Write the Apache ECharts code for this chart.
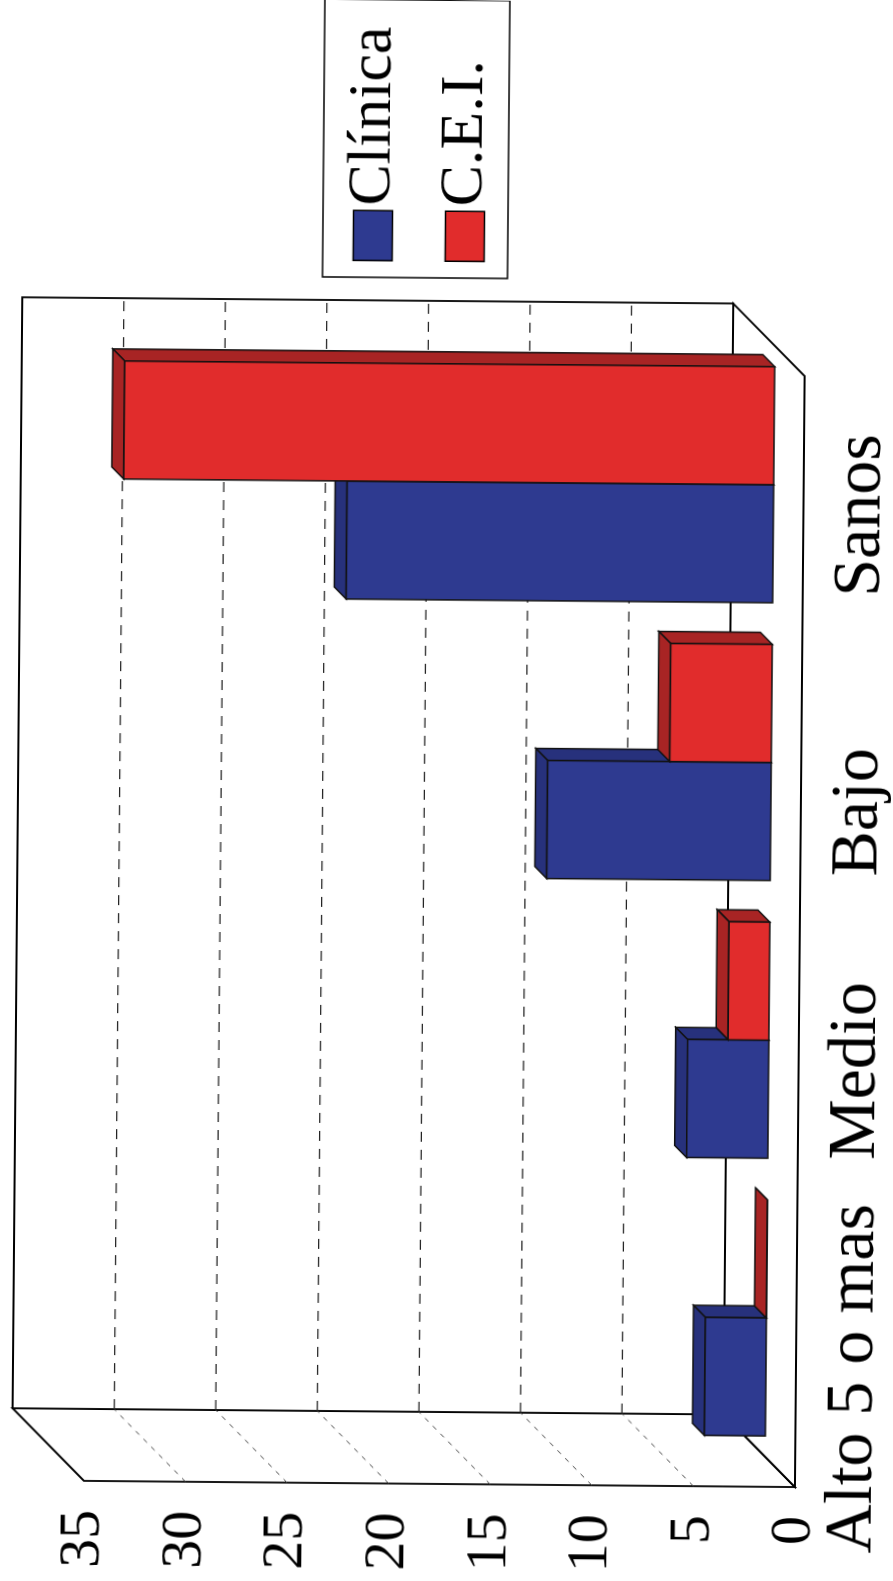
<!DOCTYPE html>
<html>
<head>
<meta charset="utf-8">
<script src="https://cdn.jsdelivr.net/npm/echarts@6/dist/echarts.min.js"></script>
<style>
  html, body { margin: 0; padding: 0; background: #fff; width: 893px; height: 1581px; overflow: hidden; }
  /* landscape chart turned a quarter turn to sit on the portrait page */
  #chart { position: absolute; left: -344px; top: 344px; width: 1581px; height: 893px;
           transform: rotate(-89.5deg); transform-origin: 50% 50%; }
</style>
</head>
<body>
<div id="chart"></div>
<script>
// ---- data ----
const categories = ['Alto 5 o mas', 'Medio', 'Bajo', 'Sanos'];
const clinica = [3, 4, 11, 21];
const cei = [0, 2, 5, 32];
const seriesNames = ['Clínica', 'C.E.I.'];
const valueMin = 0;
const valueMax = 35;
const valueStep = 5;

// ---- 3D look ----
const DEPTH = 72;        // floor depth (oblique offset, px)
const BAR_FRONT = 30;    // bar front face depth from the front plane
const BAR_BACK = 42;     // bar back face depth
const BAR_FRAC = 0.425;  // bar width as a fraction of a category band
const FONT = 'Liberation Serif, "Times New Roman", serif';
const labelShift = [-30, 0, -19, 0];   // horizontal nudge of each category label

const palette = [
  { front: '#2e3a90', bevel: '#27317c' },
  { front: '#e12c2c', bevel: '#a82424' }
];

function wallsItem(params, api) {
  const cs = params.coordSys;
  const fx0 = cs.x, fx1 = cs.x + cs.width;
  const fyTop = cs.y, fyBot = cs.y + cs.height;
  const D = DEPTH;
  const edge = { stroke: '#000', lineWidth: 1.8, fill: '#fff' };
  const children = [];
  // side wall (left)
  children.push({ type: 'polygon', shape: { points: [[fx0, fyTop], [fx0 + D, fyTop - D], [fx0 + D, fyBot - D], [fx0, fyBot]] }, style: edge });
  // floor
  children.push({ type: 'polygon', shape: { points: [[fx0, fyBot], [fx0 + D, fyBot - D], [fx1 + D, fyBot - D], [fx1, fyBot]] }, style: edge });
  // back wall
  children.push({ type: 'rect', shape: { x: fx0 + D, y: fyTop - D, width: cs.width, height: cs.height }, style: edge });
  // gridlines on the back wall and the side wall
  for (let v = valueMin + valueStep; v < valueMax; v += valueStep) {
    const y = api.coord([0, v])[1];
    children.push({ type: 'line', shape: { x1: fx0 + D, y1: y - D, x2: fx1 + D, y2: y - D },
      style: { stroke: '#222', lineWidth: 1.2, lineDash: [10, 8] } });
    children.push({ type: 'line', shape: { x1: fx0, y1: y, x2: fx0 + D, y2: y - D },
      style: { stroke: '#444', lineWidth: 1, lineDash: [5, 6] } });
  }
  return { type: 'group', children: children };
}

function barItem(sIdx) {
  const col = palette[sIdx];
  return function (params, api) {
    const i = api.value(0), v = api.value(1);
    const base = api.coord([i, 0]);
    const top = api.coord([i, v]);
    const band = api.size([1, 0])[0];
    const w = band * BAR_FRAC;
    const xl = sIdx === 0 ? base[0] - w : base[0];
    const xr = xl + w;
    const f = BAR_FRONT, b = BAR_BACK;
    const line = { stroke: '#111', lineWidth: 1.5 };
    const children = [];
    // right side face
    children.push({ type: 'polygon', shape: { points: [[xr + f, top[1] - f], [xr + b, top[1] - b], [xr + b, base[1] - b], [xr + f, base[1] - f]] },
      style: Object.assign({ fill: col.bevel }, line) });
    // top face
    children.push({ type: 'polygon', shape: { points: [[xl + f, top[1] - f], [xr + f, top[1] - f], [xr + b, top[1] - b], [xl + b, top[1] - b]] },
      style: Object.assign({ fill: col.bevel }, line) });
    // front face
    children.push({ type: 'rect', shape: { x: xl + f, y: top[1] - f, width: w, height: base[1] - top[1] },
      style: Object.assign({ fill: col.front }, line) });
    return { type: 'group', children: children };
  };
}

// one rich style per category label so each can be nudged
const catRich = {};
labelShift.forEach((s, k) => {
  catRich['c' + k] = {
    fontFamily: FONT, fontSize: 68, color: '#000',
    padding: s < 0 ? [0, -2 * s, 0, 0] : [0, 0, 0, 2 * s]
  };
});

const chart = echarts.init(document.getElementById('chart'), null, { renderer: 'canvas' });
chart.setOption({
  backgroundColor: '#fff',
  animation: false,
  grid: { left: 97, right: 373, top: 90, bottom: 91 },
  legend: {
    data: seriesNames,
    orient: 'vertical',
    left: 1303, top: 318,
    padding: [19, 27, 12, 16],
    itemWidth: 50, itemHeight: 39, itemGap: 30,
    icon: 'rect',
    borderColor: '#000', borderWidth: 1.5, backgroundColor: '#fff',
    selectedMode: false,
    itemStyle: { borderColor: '#000', borderWidth: 1.5 },
    textStyle: { fontFamily: FONT, fontSize: 62, color: '#000' }
  },
  xAxis: {
    type: 'category', data: categories,
    axisLine: { show: false }, axisTick: { show: false }, splitLine: { show: false },
    axisLabel: {
      interval: 0, margin: 24, fontFamily: FONT, fontSize: 68, color: '#000',
      formatter: (val, idx) => '{c' + idx + '|' + val + '}',
      rich: catRich
    }
  },
  yAxis: {
    type: 'value', min: valueMin, max: valueMax, interval: valueStep,
    axisLine: { show: false }, axisTick: { show: false }, splitLine: { show: false },
    axisLabel: { margin: 29, fontFamily: FONT, fontSize: 58, color: '#000' }
  },
  series: [
    { type: 'custom', name: 'walls', silent: true, z: 1, renderItem: wallsItem, data: [[0, 0]] },
    { type: 'custom', name: seriesNames[0], z: 2, renderItem: barItem(0),
      itemStyle: { color: palette[0].front, borderColor: '#000', borderWidth: 1.5 },
      encode: { x: 0, y: 1 }, data: clinica.map((v, i) => [i, v]) },
    { type: 'custom', name: seriesNames[1], z: 3, renderItem: barItem(1),
      itemStyle: { color: palette[1].front, borderColor: '#000', borderWidth: 1.5 },
      encode: { x: 0, y: 1 }, data: cei.map((v, i) => [i, v]) }
  ]
});
</script>
</body>
</html>
